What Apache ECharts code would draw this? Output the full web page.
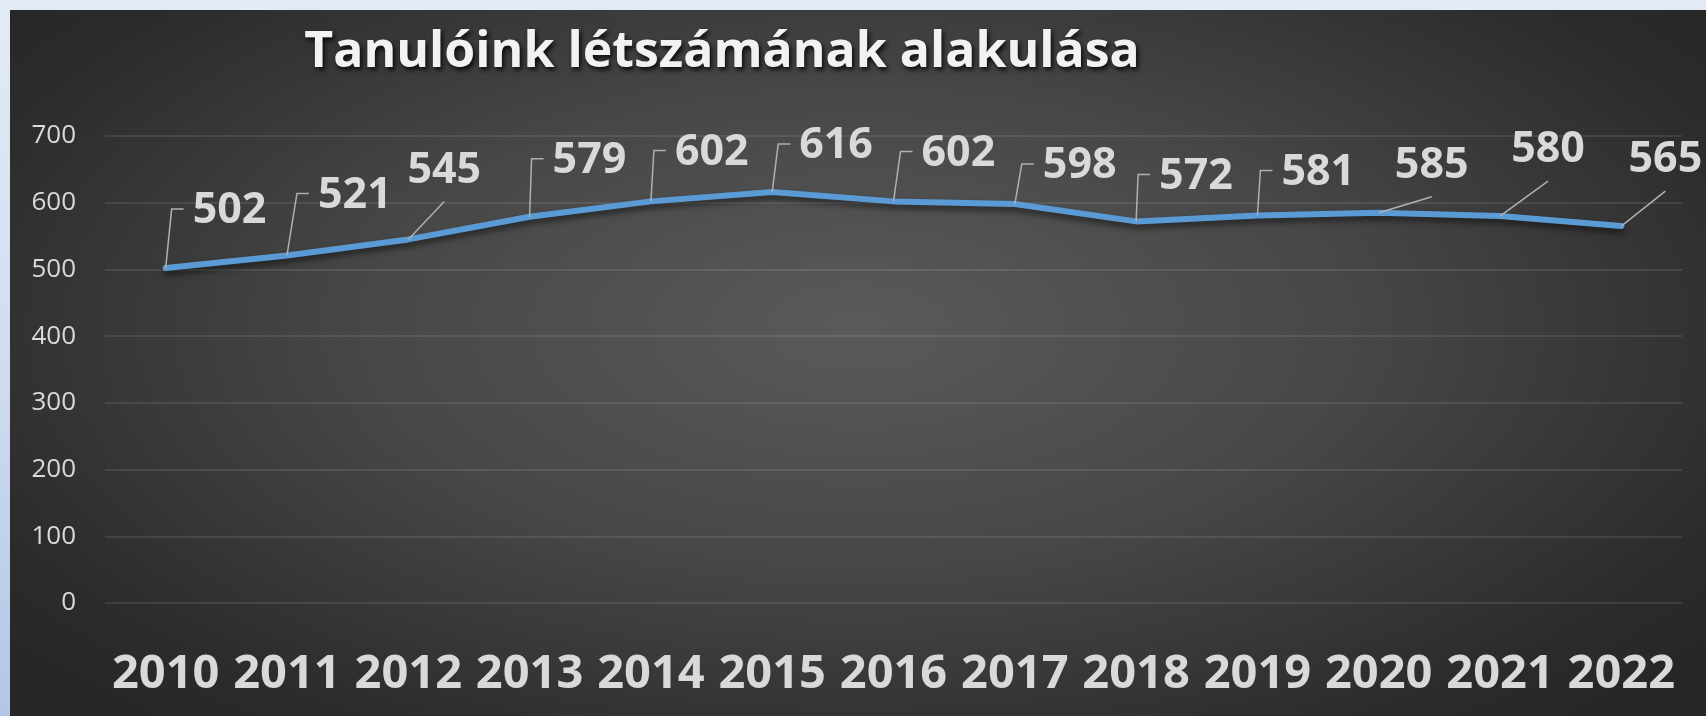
<!DOCTYPE html>
<html><head><meta charset="utf-8">
<script src="https://cdn.jsdelivr.net/npm/echarts@6/dist/echarts.min.js"></script>
<style>
html,body{margin:0;padding:0;width:1706px;height:716px;overflow:hidden;background:linear-gradient(to bottom,#e3ebf6 0%,#d0ddf0 50%,#b3c6e7 100%);}
#box{position:absolute;left:10px;top:10px;right:0;bottom:0;background:radial-gradient(ellipse 65% 75% at 50% 45%, #5a5a5a 0%, #474747 45%, #2c2c2c 85%, #262626 100%);}
#chart{position:absolute;left:0;top:0;width:1706px;height:716px;}
</style></head>
<body><div id="box"></div><div id="chart"></div>
<script>
const chartTitle = 'Tanulóink létszámának alakulása';
const years = ['2010','2011','2012','2013','2014','2015','2016','2017','2018','2019','2020','2021','2022'];
const students = [502, 521, 545, 579, 602, 616, 602, 598, 572, 581, 585, 580, 565];
const yMin = 0, yMax = 700, yStep = 100;

// label placement (style only): kind 'b' = bracket leader, 's' = slanted leader; offsets from the point
const labelPlacement = [
  ['b',6,-59],['b',10,-62],['s',36,-38],['b',2,-58],['b',3,-51],['b',6,-48],['b',7,-50],
  ['b',7,-40],['b',2,-47],['b',3,-45],['s',53,-16],['s',48,-35],['s',44,-35]
];

const FONT = '"Open Sans", "Noto Sans", sans-serif';
const chart = echarts.init(document.getElementById('chart'), null, {renderer:'canvas'});
chart.setOption({
  backgroundColor: 'transparent',
  animation: false,
  graphic: [{
    type: 'text', x: 722, y: 53, z: 10,
    style: {
      text: chartTitle, x: 0, y: 0, align: 'center', verticalAlign: 'middle',
      fill: '#f2f2f2', fontSize: 50, fontWeight: 'bold', fontFamily: FONT,
      textShadowColor: 'rgba(0,0,0,0.85)', textShadowBlur: 5, textShadowOffsetX: 2, textShadowOffsetY: 3
    }
  }],
  grid: {left: 105, right: 24, top: 136, bottom: 113, containLabel: false, outerBoundsMode: 'none'},
  xAxis: {
    type: 'category', data: years, boundaryGap: true,
    axisLine: {show: false}, axisTick: {show: false},
    axisLabel: {color: '#d9d9d9', fontSize: 47, fontWeight: 'bold', fontFamily: FONT, margin: 48, interval: 0}
  },
  yAxis: {
    type: 'value', min: yMin, max: yMax, interval: yStep,
    axisLine: {show: false}, axisTick: {show: false},
    axisLabel: {color: '#d9d9d9', fontSize: 26, fontFamily: FONT, margin: 29},
    splitLine: {lineStyle: {color: 'rgba(255,255,255,0.13)', width: 1.5}}
  },
  series: [
    {
      type: 'line', data: students, symbol: 'none', z: 3,
      lineStyle: {color: '#5b9bd5', width: 6, cap: 'round', join: 'round',
        shadowColor: 'rgba(0,0,0,0.55)', shadowBlur: 6, shadowOffsetY: 4}
    },
    {
      type: 'custom', z: 4, clip: false,
      data: students.map((v, i) => [i, v]),
      renderItem: function (params, api) {
        const i = params.dataIndex;
        const p = api.coord([api.value(0), api.value(1)]);
        const pl = labelPlacement[i];
        const tx = p[0] + pl[1], ty = p[1] + pl[2];
        const txt = String(api.value(1));
        const textStyle = {fill: '#d9d9d9', fontSize: 43, fontWeight: 'bold', fontFamily: FONT, text: txt};
        const children = [];
        if (pl[0] === 'b') {
          children.push({type: 'polyline', shape: {points: [[p[0], p[1]], [tx, ty], [tx + 12, ty]]},
            style: {stroke: '#b0b0b0', lineWidth: 1.5, fill: null}});
          children.push({type: 'text', style: Object.assign({x: tx + 21, y: ty + 2, align: 'left', verticalAlign: 'middle'}, textStyle)});
        } else {
          children.push({type: 'line', shape: {x1: p[0], y1: p[1], x2: tx, y2: ty},
            style: {stroke: '#b0b0b0', lineWidth: 1.5}});
          children.push({type: 'text', style: Object.assign({x: tx, y: ty - 31, align: 'center', verticalAlign: 'middle'}, textStyle)});
        }
        return {type: 'group', children: children};
      }
    }
  ]
});
</script>
</body></html>
